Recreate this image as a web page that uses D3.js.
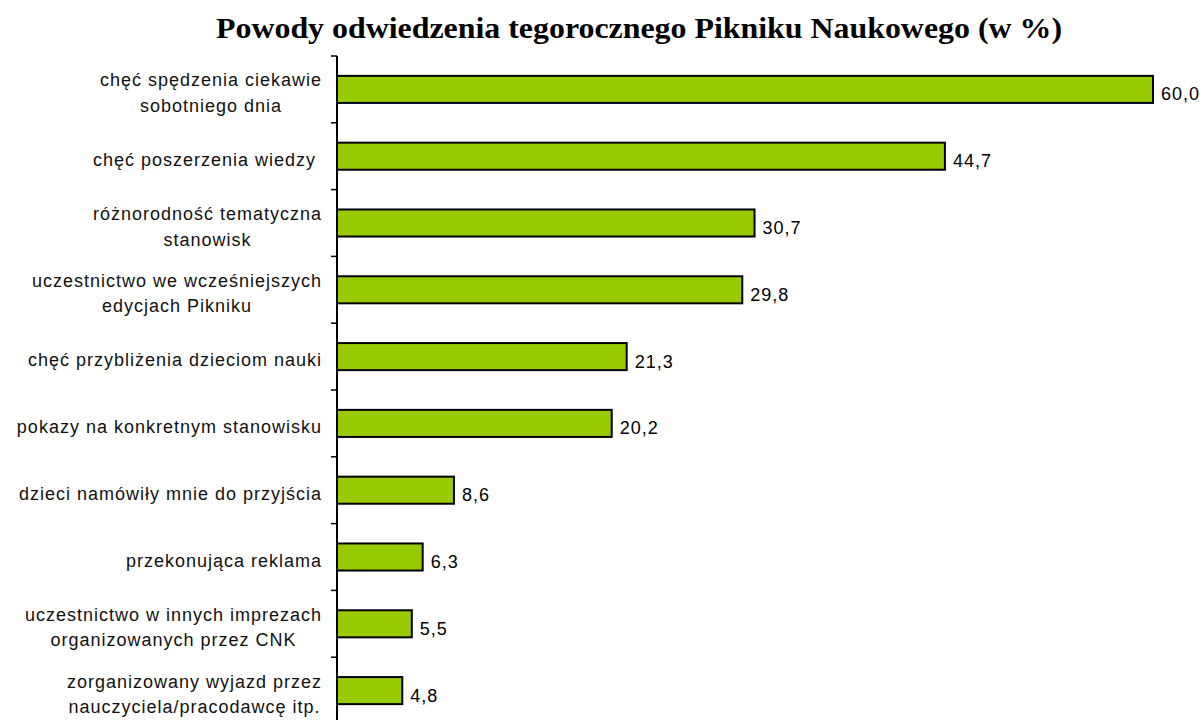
<!DOCTYPE html>
<html><head><meta charset="utf-8">
<script src="https://cdn.jsdelivr.net/npm/d3@7"></script>
<style>body{margin:0;background:#fff}</style>
</head><body>
<script>
const categories = [
  "chęć spędzenia ciekawie|sobotniego dnia",
  "chęć poszerzenia wiedzy ",
  "różnorodność tematyczna|stanowisk",
  "uczestnictwo we wcześniejszych|edycjach Pikniku",
  "chęć przybliżenia dzieciom nauki",
  "pokazy na konkretnym stanowisku",
  "dzieci namówiły mnie do przyjścia",
  "przekonująca reklama",
  "uczestnictwo w innych imprezach|organizowanych przez CNK",
  "zorganizowany wyjazd przez|nauczyciela/pracodawcę itp."
];
const values = [60.0, 44.7, 30.7, 29.8, 21.3, 20.2, 8.6, 6.3, 5.5, 4.8];
const titleText = "Powody odwiedzenia tegorocznego Pikniku Naukowego (w %)";

const W = 1203, H = 720;
const svg = d3.select("body").append("svg").attr("width", W).attr("height", H);

const x0 = 337;
const x = d3.scaleLinear().domain([0, 60]).range([x0, x0 + 816]);
const y = d3.scaleBand().domain(categories).range([56, 56 + 66.8 * 10]).paddingInner(0.595).paddingOuter(0.2975);

svg.append("text").attr("x", 639).attr("y", 38).attr("text-anchor", "middle")
  .attr("font-family", "Liberation Serif, Times New Roman, serif").attr("font-weight", "bold")
  .attr("font-size", 29).attr("textLength", 846).attr("lengthAdjust", "spacingAndGlyphs")
  .text(titleText);

// bars
svg.selectAll("rect.bar").data(categories).join("rect").attr("class", "bar")
  .attr("x", x(0)).attr("y", d => y(d))
  .attr("width", (d, i) => x(values[i]) - x(0)).attr("height", y.bandwidth())
  .attr("fill", "#99cc00").attr("stroke", "#000").attr("stroke-width", 2);

// axis
const axis = svg.append("g");
axis.append("line").attr("x1", x0).attr("x2", x0).attr("y1", 56).attr("y2", H).attr("stroke", "#000").attr("stroke-width", 2);
const step = y.step();
d3.range(0, 11).forEach(k => {
  axis.append("line").attr("x1", x0 - 6).attr("x2", x0).attr("y1", 56 + step * k).attr("y2", 56 + step * k)
    .attr("stroke", "#000").attr("stroke-width", 1.5);
});

// value labels
svg.selectAll("text.val").data(categories).join("text").attr("class", "val")
  .attr("x", (d, i) => x(values[i]) + 8).attr("y", d => y(d) + y.bandwidth() / 2 + 11)
  .attr("font-family", "Liberation Sans, Arial, sans-serif").attr("font-size", 18)
  .attr("letter-spacing", 1)
  .text((d, i) => values[i].toFixed(1).replace(".", ","));

// category labels
categories.forEach(c => {
  const lines = c.split("|");
  const cy = y(c) + y.bandwidth() / 2;
  const g = svg.append("g");
  const ts = lines.map((l, j) => g.append("text")
    .attr("y", cy + (lines.length === 2 ? (j === 0 ? -3 : 22.5) : 9.5))
    .attr("text-anchor", "middle")
    .attr("font-family", "Liberation Sans, Arial, sans-serif").attr("font-size", 18)
    .attr("letter-spacing", 1)
    .style("white-space", "pre")
    .attr("fill", "#111")
    .text(l));
  const wmax = d3.max(ts, t => t.node().getComputedTextLength());
  ts.forEach(t => t.attr("x", 322 - wmax / 2));
});
</script>
</body></html>
